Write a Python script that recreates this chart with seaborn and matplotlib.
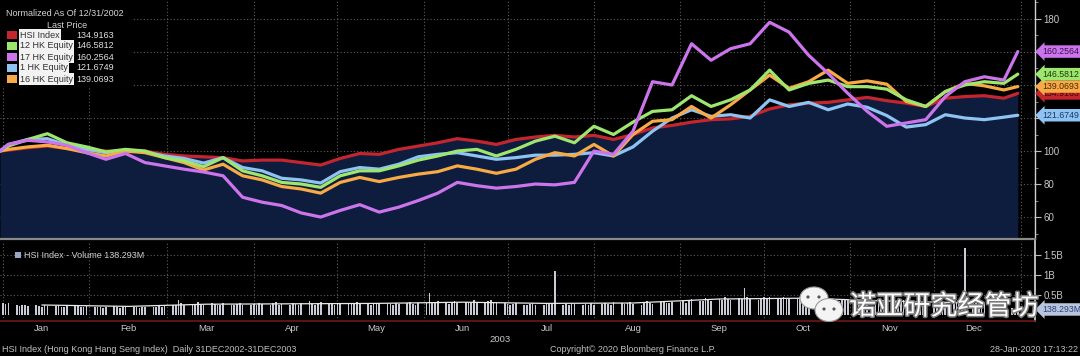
import numpy as np
import pandas as pd
import matplotlib
matplotlib.use("Agg")
import matplotlib.pyplot as plt
import matplotlib.dates as mdates
import matplotlib.patheffects as pe
from matplotlib.patches import Ellipse, Rectangle
import seaborn as sns

# ---------------- data ----------------
week_dates = (['2002-12-31'] +
              [d.strftime('%Y-%m-%d') for d in pd.date_range('2003-01-03', '2003-12-26', freq='W-FRI')] +
              ['2003-12-31'])

hsi = [100, 100.5, 102, 103, 101.5, 100.5, 100, 99.5, 100, 98, 97, 96.5, 96, 94,
       94.5, 94.5, 93, 91.5, 95.5, 98.5, 98, 101, 103, 105, 107.5, 106, 104,
       107, 108.5, 109.5, 108.5, 109.5, 107, 110, 114, 115.5, 117.5, 119, 119.5, 121,
       125.5, 128, 129, 129.5, 131, 132.5, 130.5, 129, 127, 132, 133, 133.5, 132, 134.9163]
hk12 = [100, 103, 107, 110.5, 105, 102.5, 99.5, 101, 100, 96, 94, 90.5, 96, 88,
        85, 81, 80, 78, 85, 88, 88, 91, 94.5, 97, 100, 101, 97,
        101, 106, 109, 105, 115, 110, 117.5, 124, 125, 133.5, 127, 131, 137,
        149, 137, 141, 143, 139, 139, 137.5, 131, 127, 136, 140, 142, 141, 146.5812]
hk17 = [100, 104, 106.5, 105.5, 103.5, 99, 95, 98.5, 93, 91, 89, 87.3, 85, 72,
        69, 67, 62.5, 60, 64, 67.5, 63, 66, 70, 74.5, 81, 79, 77.5,
        78.5, 80, 79.5, 81, 100, 98, 112, 142, 140, 165, 155, 162, 165,
        178, 172, 158, 147, 135, 124, 115, 117, 119, 133, 142, 145, 143, 160.2564]
hk1 = [100, 104, 107, 107.5, 103.5, 101, 99, 100.5, 99.5, 97, 95.5, 92.7, 96, 90,
       88, 83.5, 82.5, 80.6, 87.5, 90, 89, 92, 96.5, 98, 99, 97, 95,
       96, 97.5, 97.5, 98, 99, 97, 102.5, 112, 120, 125, 121, 122, 120,
       131, 127, 129.5, 125, 128.5, 126.5, 121.5, 114.5, 116, 122, 120, 119, 120.5, 121.6749]
hk16 = [100, 101, 102.5, 103.5, 101.5, 99, 97, 100, 99, 96, 93, 88.5, 92, 85,
        82.5, 78.5, 77, 74.5, 81, 84, 81.5, 84, 86, 87.5, 91, 89, 86.5,
        89, 95, 99, 97, 104, 97, 110, 118, 119, 127, 120, 128, 137,
        146, 138, 142, 149, 141, 142.5, 140.5, 130, 127, 136, 141, 139.5, 137, 139.0693]

series_names = ['HSI Index', '12 HK Equity', '17 HK Equity', '1 HK Equity', '16 HK Equity']
last_values = ['134.9163', '146.5812', '160.2564', '121.6749', '139.0693']

# daily volume, millions
vol_jan = [310, 280, 300, 250, 230, 260, 240, 220, 250, 230, 210, 240, 220, 230, 250, 210, 200, 230, 220, 240, 210, 200, 230]
vol_feb = [200, 190, 210, 180, 200, 220, 190, 180, 200, 210, 190, 200, 180, 190, 210, 200, 190, 220, 200, 230]
vol_mar = [260, 240, 370, 300, 260, 280, 240, 320, 260, 250, 300, 270, 240, 260, 290, 250, 240, 270, 300, 260, 250]
vol_apr = [280, 260, 300, 270, 250, 290, 320, 260, 280, 250, 300, 270, 260, 310, 340, 280, 260, 290, 330, 300, 270, 260]
vol_may = [300, 280, 310, 270, 290, 330, 300, 280, 260, 290, 310, 270, 300, 280, 260, 290, 270, 300, 320, 280, 260, 290]
vol_jun = [300, 550, 290, 310, 350, 300, 280, 320, 360, 300, 330, 330, 300, 370, 320, 290, 340, 380, 310, 290, 300]
vol_jul = [270, 250, 280, 300, 260, 240, 270, 290, 250, 260, 280, 300, 270, 1100, 250, 280, 260, 300, 270, 250, 280, 260, 290]
vol_aug = [260, 280, 300, 270, 250, 320, 290, 270, 300, 330, 280, 260, 310, 350, 300, 280, 320, 340, 300, 290, 330]
vol_sep = [320, 350, 300, 380, 400, 340, 360, 420, 380, 350, 400, 370, 450, 400, 380, 420, 390, 670, 440, 400, 380, 410]
vol_oct = [450, 420, 440, 400, 430, 460, 410, 390, 420, 440, 400, 380, 410, 430, 390, 370, 400, 420, 380, 360, 390, 410, 380]
vol_nov = [350, 370, 340, 360, 380, 330, 350, 340, 320, 360, 340, 330, 350, 370, 340, 320, 330, 350, 310, 330]
vol_dec = [320, 300, 340, 310, 290, 330, 300, 280, 310, 1670, 300, 290, 310, 280, 300, 270, 260, 240, 220, 200, 180, 160, 138.293]

ma_dates = ['2003-01-15', '2003-02-15', '2003-03-15', '2003-04-15', '2003-05-15', '2003-06-15',
            '2003-07-15', '2003-08-15', '2003-09-15', '2003-10-15', '2003-11-15', '2003-12-15']
vol_ma = [250, 215, 270, 280, 290, 320, 290, 300, 400, 420, 350, 300]

month_labels = ['Jan', 'Feb', 'Mar', 'Apr', 'May', 'Jun', 'Jul', 'Aug', 'Sep', 'Oct', 'Nov', 'Dec']

# ---------------- style ----------------
sns.set_theme(style="dark", rc={
    'figure.facecolor': 'black', 'axes.facecolor': 'black',
    'savefig.facecolor': 'black', 'axes.edgecolor': '#888888',
    'text.color': '#c8c8c8', 'xtick.color': '#c8c8c8', 'ytick.color': '#c8c8c8',
})
plt.rcParams['font.family'] = ['Liberation Sans', 'DejaVu Sans']
TAG_FONT = ['Liberation Sans Narrow', 'Liberation Sans', 'DejaVu Sans']

colors = {'HSI Index': '#c3262e', '12 HK Equity': '#9ee66e', '17 HK Equity': '#cc74ec',
          '1 HK Equity': '#8ec3f2', '16 HK Equity': '#f7aa45'}
box_text = {'HSI Index': '#3a0808', '12 HK Equity': '#1d3a0d', '17 HK Equity': '#3b0f52',
            '1 HK Equity': '#173a6b', '16 HK Equity': '#4a2a05'}
navy = '#0e1d3d'
grid_kw = dict(color='#5c5c5c', linestyle=(0, (1, 2)), linewidth=0.8)

W, H = 1080, 356
fig = plt.figure(figsize=(W / 100, H / 100), dpi=100)
ax1 = fig.add_axes([0, 1 - 239 / H, 1035 / W, 239 / H])
ax2 = fig.add_axes([0, 1 - 321 / H, 1035 / W, 80 / H], sharex=ax1)

df = pd.DataFrame({'date': pd.to_datetime(week_dates), 'HSI Index': hsi, '12 HK Equity': hk12,
                   '17 HK Equity': hk17, '1 HK Equity': hk1, '16 HK Equity': hk16})

# mountain under HSI
ax1.fill_between(df['date'], df['HSI Index'], 40, color=navy, lw=0, zorder=1)
draw_order = ['HSI Index', '1 HK Equity', '16 HK Equity', '12 HK Equity', '17 HK Equity']
for i, name in enumerate(draw_order):
    sns.lineplot(data=df, x='date', y=name, color=colors[name], lw=2.3, ax=ax1,
                 legend=False, zorder=3 + i)

xmin, xmax = pd.Timestamp('2002-12-31'), pd.Timestamp('2004-01-06 04:00')
ax1.set_xlim(xmin, xmax)
ax1.set_ylim(46.7, 191.5)
ax1.set_xlabel('')
ax1.set_ylabel('')
ax1.yaxis.tick_right()
ax1.set_yticks([60, 80, 100, 120, 140, 160, 180])
ax1.set_yticklabels(['60', '80', '100', '', '', '', '180'])
ax1.set_yticks(np.arange(50, 191, 10), minor=True)
ax1.tick_params(axis='y', which='major', length=4, width=0.8, color='#bbbbbb', labelsize=7, pad=2,
                right=True, left=False)
ax1.tick_params(axis='y', which='minor', length=2, width=0.6, color='#999999', right=True, left=False)
ax1.xaxis.set_major_locator(mdates.MonthLocator())
ax1.tick_params(axis='x', which='both', length=0, labelbottom=False)
ax1.grid(True, which='major', **grid_kw)
for s in ['top', 'left']:
    ax1.spines[s].set_visible(False)
ax1.spines['right'].set_color('#cfcfcf')
ax1.spines['right'].set_linewidth(1.0)
ax1.spines['bottom'].set_color('#8a8a8a')
ax1.spines['bottom'].set_linewidth(1.6)

# last value tags
for name in ['HSI Index', '1 HK Equity', '16 HK Equity', '12 HK Equity', '17 HK Equity']:
    v = df[name].iloc[-1]
    ax1.annotate(last_values[series_names.index(name)], xy=(1.0, v), xycoords=('axes fraction', 'data'),
                 xytext=(5, 0), textcoords='offset points', ha='left', va='center',
                 fontsize=6.3, family=TAG_FONT, color=box_text[name], annotation_clip=False, zorder=20,
                 bbox=dict(boxstyle='larrow,pad=0.2', fc=colors[name], ec='none'))

# ---------------- volume panel ----------------
vol = vol_jan + vol_feb + vol_mar + vol_apr + vol_may + vol_jun + vol_jul + vol_aug + vol_sep + vol_oct + vol_nov + vol_dec
vdates = pd.bdate_range('2003-01-01', '2003-12-31')[:len(vol)]
ax2.bar(vdates, np.array(vol) / 1000.0, width=0.6, color='#c9ccd6', lw=0, zorder=3)
mdf = pd.DataFrame({'date': pd.to_datetime(ma_dates), 'ma': np.array(vol_ma) / 1000.0})
sns.lineplot(data=mdf, x='date', y='ma', color='#e8e8e8', lw=0.9, ax=ax2, legend=False, zorder=4)
ax2.set_xlim(xmin, xmax)
ax2.set_ylim(-0.15, 1.85)
ax2.set_xlabel('')
ax2.set_ylabel('')
ax2.yaxis.tick_right()
ax2.set_yticks([0.5, 1.0, 1.5])
ax2.set_yticklabels(['0.5B', '1B', '1.5B'])
ax2.tick_params(axis='y', length=4, width=0.8, color='#bbbbbb', labelsize=7, pad=2, right=True, left=False)
ax2.xaxis.set_major_locator(mdates.MonthLocator())
ax2.xaxis.set_major_formatter(matplotlib.ticker.NullFormatter())
ax2.xaxis.set_minor_locator(mdates.MonthLocator(bymonthday=15))
ax2.xaxis.set_minor_formatter(mdates.DateFormatter('%b'))
ax2.tick_params(axis='x', which='both', length=0, labelsize=6.8, pad=2.5, colors='#c8c8c8')
ax2.grid(True, which='major', **grid_kw)
for s in ['top', 'left']:
    ax2.spines[s].set_visible(False)
ax2.spines['right'].set_color('#cfcfcf')
ax2.spines['bottom'].set_color('#6e1717')
ax2.spines['bottom'].set_linewidth(1.2)
ax2.annotate('138.293M', xy=(1.0, vol[-1] / 1000.0), xycoords=('axes fraction', 'data'),
             xytext=(5, 0), textcoords='offset points', ha='left', va='center', fontsize=6.3,
             family=TAG_FONT, color='#2b3f7a', annotation_clip=False, zorder=20,
             bbox=dict(boxstyle='larrow,pad=0.2', fc='#b9c5dd', ec='none'))

# ---------------- legend (top-left) ----------------
def fx(px): return px / W
def fy(py): return 1 - py / H

fig.add_artist(Rectangle((0, fy(86)), fx(133), 86 / H, transform=fig.transFigure, fc='black', ec='none', zorder=5))
fig.text(fx(6), fy(14), 'Normalized As Of 12/31/2002', fontsize=6.5, color='#d4d4d4', va='center', zorder=6)
fig.text(fx(67), fy(25), 'Last Price', fontsize=6.5, color='#d4d4d4', va='center', ha='center', zorder=6)
leg_rows = [('HSI Index', 35), ('12 HK Equity', 46), ('17 HK Equity', 57), ('1 HK Equity', 68), ('16 HK Equity', 79)]
for name, py in leg_rows:
    fig.add_artist(Rectangle((fx(7), fy(py + 4)), fx(10), 8 / H, transform=fig.transFigure,
                             fc=colors[name], ec='none', zorder=6))
    fig.text(fx(20), fy(py), name, fontsize=6.5, color='#303030', va='center', zorder=7,
             bbox=dict(boxstyle='square,pad=0.12', fc='#f2f2f2', ec='none'))
    fig.text(fx(76), fy(py), last_values[series_names.index(name)], fontsize=6.5, color='#e0e0e0',
             va='center', zorder=7)

# volume legend
fig.add_artist(Rectangle((fx(15), fy(258)), fx(6), 6 / H, transform=fig.transFigure,
                         fc='#9aa6c4', ec='none', zorder=6))
fig.text(fx(24), fy(255), 'HSI Index - Volume 138.293M', fontsize=6.5, color='#cfcfcf', va='center', zorder=7)

# ---------------- footer ----------------
fig.text(fx(500), fy(339), '2003', fontsize=6.8, color='#c8c8c8', ha='center', va='center')
fig.text(fx(2), fy(350), 'HSI Index (Hong Kong Hang Seng Index)  Daily 31DEC2002-31DEC2003',
         fontsize=6.5, color='#c0c0c0', va='center')
fig.text(fx(633), fy(350), 'Copyright\u00a9 2020 Bloomberg Finance L.P.', fontsize=6.5,
         color='#c0c0c0', va='center', ha='center')
fig.text(fx(1078), fy(350), '28-Jan-2020 17:13:22', fontsize=6.5, color='#c0c0c0', va='center', ha='right')

# ---------------- watermark ----------------
fig.add_artist(Ellipse((fx(814), fy(298)), fx(28), 22 / H, transform=fig.transFigure,
                       fc='#f4f4f4', ec='#9a9a9a', lw=0.8, zorder=30))
fig.add_artist(Ellipse((fx(829), fy(310)), fx(28), 23 / H, transform=fig.transFigure,
                       fc='#f4f4f4', ec='#9a9a9a', lw=0.8, zorder=31))
for ex, ey, z in [(808, 297, 30.5), (819, 297, 30.5), (824, 309, 31.5), (834, 309, 31.5)]:
    fig.add_artist(Ellipse((fx(ex), fy(ey)), fx(3.2), 3.2 / H, transform=fig.transFigure,
                           fc='#555555', ec='none', zorder=z))
fig.text(fx(944), fy(307), '诺亚研究经管坊', fontsize=19.5, color='white', ha='center', va='center',
         family=['Noto Sans CJK SC', 'DejaVu Sans'], zorder=32,
         path_effects=[pe.withStroke(linewidth=2.2, foreground='#7a7a7a')])

fig.savefig('out.png', dpi=100, facecolor='black')
